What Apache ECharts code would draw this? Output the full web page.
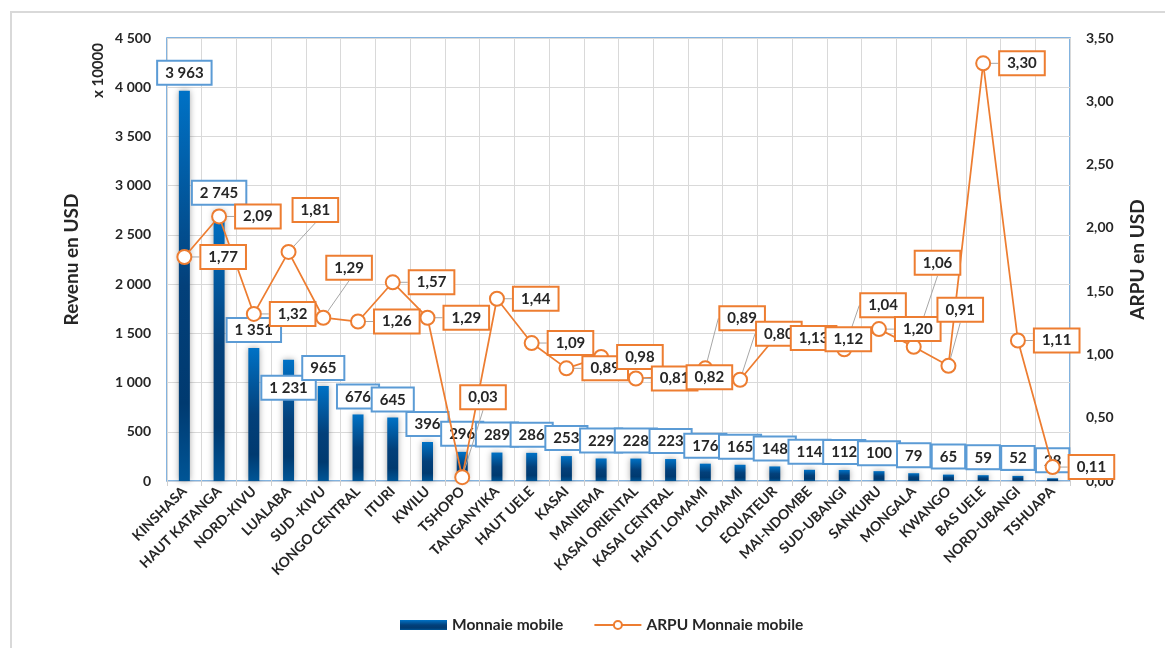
<!DOCTYPE html>
<html>
<head>
<meta charset="utf-8">
<script src="https://cdn.jsdelivr.net/npm/echarts@6/dist/echarts.min.js"></script>
<style>html,body{margin:0;padding:0;background:#fff;}#c{width:1165px;height:648px;}</style>
</head>
<body>
<div id="c"></div>
<script>
const categories = ['KINSHASA','HAUT KATANGA','NORD-KIVU','LUALABA','SUD -KIVU','KONGO CENTRAL','ITURI','KWILU','TSHOPO','TANGANYIKA','HAUT UELE','KASAI','MANIEMA','KASAI ORIENTAL','KASAI CENTRAL','HAUT LOMAMI','LOMAMI','EQUATEUR','MAI-NDOMBE','SUD-UBANGI','SANKURU','MONGALA','KWANGO','BAS UELE','NORD-UBANGI','TSHUAPA'];
const revenue = [3963,2745,1351,1231,965,676,645,396,296,289,286,253,229,228,223,176,165,148,114,112,100,79,65,59,52,28];
const arpu = [1.77,2.09,1.32,1.81,1.29,1.26,1.57,1.29,0.03,1.44,1.09,0.89,0.98,0.81,0.82,0.89,0.80,1.13,1.12,1.04,1.20,1.06,0.91,3.30,1.11,0.11];
const seriesNames = ['Monnaie mobile','ARPU Monnaie mobile'];

const FONT = 'Lato';
const TXT = '#262626';
const fmtThousands = v => String(Math.round(v)).replace(/\B(?=(\d{3})+(?!\d))/g, ' ');
const fmtDec = v => v.toFixed(2).replace('.', ',');

const lineLabelMoves = {3:[-12,-42],4:[-13,-50],8:[-18,-80],15:[-2,-50],16:[0,-46],19:[0,-44],21:[-15,-84],22:[-27,-56]};
const barLabelMoves = {3:[0,46]};

const chart = echarts.init(document.getElementById('c'));
chart.setOption({
  animation: false,
  textStyle: {fontFamily: FONT},
  graphic: [
    {type:'rect', shape:{x:11,y:12,width:1200,height:700}, style:{fill:'none', stroke:'#d9d9d9', lineWidth:2}, z:-10},
    {type:'text', x:91, y:98, rotation:Math.PI/2, style:{text:'x 10000', font:'bold 15px ' + FONT, fill:TXT, align:'left', verticalAlign:'top'}}
  ],
  grid: {left:167, right:95, top:38, bottom:167, show:true, borderColor:'#5B9BD5', borderWidth:1.5, backgroundColor:'transparent'},
  legend: {
    left: 395, top: 612, itemWidth: 47, itemHeight: 10, itemGap: 30,
    textStyle: {fontFamily: FONT, fontWeight:'bold', fontSize:15.5, color:TXT},
    data: [
      {name: seriesNames[0], icon:'rect'},
      {name: seriesNames[1]}
    ]
  },
  xAxis: {
    type:'category', data:categories,
    axisLine:{lineStyle:{color:'#c9d3df'}},
    axisTick:{show:true, lineStyle:{color:'#d0d0d0'}, length:5},
    splitLine:{show:true, lineStyle:{color:'#d9d9d9'}},
    axisLabel:{rotate:45, interval:0, fontFamily:FONT, fontWeight:'bold', fontSize:14, color:TXT, margin:8}
  },
  yAxis: [
    {
      type:'value', min:0, max:4500, interval:500,
      name:'Revenu en USD', nameLocation:'middle', nameGap:86,
      nameTextStyle:{fontFamily:FONT, fontWeight:'bold', fontSize:19, color:TXT},
      axisLine:{show:false}, axisTick:{show:false},
      splitLine:{lineStyle:{color:'#d9d9d9'}},
      axisLabel:{fontFamily:FONT, fontWeight:'bold', fontSize:14, color:TXT, margin:16, formatter:fmtThousands}
    },
    {
      type:'value', min:0, max:3.5, interval:0.5,
      name:'ARPU en USD', nameLocation:'middle', nameGap:58, nameRotate:90,
      nameTextStyle:{fontFamily:FONT, fontWeight:'bold', fontSize:19, color:TXT},
      axisLine:{show:false}, axisTick:{show:false}, splitLine:{show:false},
      axisLabel:{fontFamily:FONT, fontWeight:'bold', fontSize:14, color:TXT, margin:16, formatter:fmtDec}
    }
  ],
  series: [
    {
      name: seriesNames[0], type:'bar', data:revenue, barWidth:11, yAxisIndex:0, z:2,
      itemStyle:{
        color: new echarts.graphic.LinearGradient(0,0,0,1,[
          {offset:0,color:'#0072C6'},{offset:0.5,color:'#03407A'},{offset:0.8,color:'#003A70'},{offset:1,color:'#005596'}
        ]),
        shadowColor:'rgba(0,0,0,0.35)', shadowBlur:6, shadowOffsetX:0
      },
      label:{
        show:true, position:'top', distance:7, formatter:p=>fmtThousands(p.value),
        fontFamily:FONT, fontWeight:'bold', fontSize:15, color:TXT,
        backgroundColor:'#fff', borderColor:'#5B9BD5', borderWidth:2, padding:[4,7,3,7]
      },
      labelLayout: p => { const m = barLabelMoves[p.dataIndex]; return m ? {dx:m[0], dy:m[1]} : {}; }
    },
    {
      name: seriesNames[1], type:'line', data:arpu, yAxisIndex:1, z:5,
      symbol:'emptyCircle', symbolSize:14, showAllSymbol:true,
      lineStyle:{color:'#ED7D31', width:1.75},
      itemStyle:{color:'#ED7D31', borderColor:'#ED7D31', borderWidth:1.5},
      label:{
        show:true, position:'right', distance:9, formatter:p=>fmtDec(p.value),
        fontFamily:FONT, fontWeight:'bold', fontSize:15, color:TXT,
        backgroundColor:'#fff', borderColor:'#ED7D31', borderWidth:2, padding:[4,7,3,7]
      },
      labelLine:{show:true, lineStyle:{color:'#a6a6a6', width:1}},
      labelLayout: p => { const m = lineLabelMoves[p.dataIndex]; return m ? {dx:m[0], dy:m[1]} : {}; }
    }
  ]
});
</script>
</body>
</html>
